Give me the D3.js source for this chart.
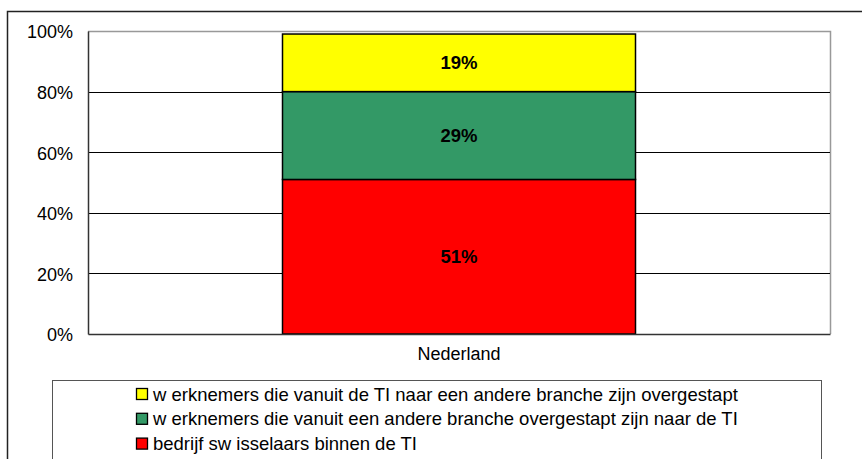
<!DOCTYPE html>
<html><head><meta charset="utf-8">
<script src="https://cdn.jsdelivr.net/npm/d3@7"></script>
<style>body{margin:0;background:#fff;}svg{display:block;font-family:"Liberation Sans",Arial,Helvetica,sans-serif;}</style>
</head><body>
<svg id="c" width="862" height="459"></svg>
<script>
const categories = ["Nederland"];
const seriesNames = [
  "bedrijf sw isselaars binnen de TI",
  "w erknemers die vanuit een andere branche overgestapt zijn naar de TI",
  "w erknemers die vanuit de TI naar een andere branche zijn overgestapt"
];
const seriesValues = [[51], [29], [19]];
const seriesColors = ["#ff0000", "#339966", "#ffff00"];
const yTicks = [0, 20, 40, 60, 80, 100];

const svg = d3.select("#c");
const L = 88, T = 31, R = 830, B = 334;
const FF = "Liberation Sans, Arial, sans-serif";

// outer border
svg.append("rect").attr("x", 7.5).attr("y", 11.5).attr("width", 900).attr("height", 500)
  .attr("fill", "none").attr("stroke", "#222").attr("stroke-width", 1.5);

const x = d3.scaleBand().domain(categories).range([L, R]).paddingInner(0)
  .paddingOuter((742 - 353) / 2 / 353);
const y = d3.scaleLinear().domain([0, 100]).range([B, T]);

// plot border top/right gray
svg.append("path").attr("d", `M${L},${T + 0.5}H${R + 0.5}V${B}`).attr("fill", "none").attr("stroke", "#999").attr("stroke-width", 1.5);

// gridlines
svg.append("g").selectAll("line").data(yTicks.filter(t => t > 0 && t < 100)).join("line")
  .attr("x1", L).attr("x2", R).attr("y1", d => Math.round(y(d)) + 0.5).attr("y2", d => Math.round(y(d)) + 0.5)
  .attr("stroke", "#000").attr("stroke-width", 1);

// stacked bars
let cum = [];
const stacks = seriesValues.map((vals) => {
  const s = vals.map((v, j) => { const y0 = cum[j] || 0; return { y0, y1: y0 + v, v, cat: categories[j] }; });
  vals.forEach((v, j) => cum[j] = (cum[j] || 0) + v);
  return s;
});
stacks.forEach((s, i) => {
  const g = svg.append("g");
  g.selectAll("rect").data(s).join("rect")
    .attr("x", d => x(d.cat)).attr("width", x.bandwidth())
    .attr("y", d => y(d.y1)).attr("height", d => y(d.y0) - y(d.y1))
    .attr("fill", seriesColors[i]).attr("stroke", "#000").attr("stroke-width", 1.5);
  g.selectAll("text").data(s).join("text")
    .attr("x", d => x(d.cat) + x.bandwidth() / 2).attr("y", d => (y(d.y0) + y(d.y1)) / 2 + 6.5)
    .attr("text-anchor", "middle").attr("font-weight", "bold").attr("font-size", 18.5).attr("fill", "#000")
    .attr("font-family", FF)
    .text(d => d.v + "%");
});

// axes
const ya = svg.append("g").attr("transform", `translate(${L},0)`)
  .call(d3.axisLeft(y).tickValues(yTicks).tickSize(0).tickPadding(15).tickFormat(d => d + "%"));
ya.attr("font-size", 18).attr("font-family", FF);
ya.select(".domain").attr("stroke", "#333").attr("stroke-width", 1.5);
ya.selectAll("text").attr("fill", "#000").attr("dy", "0.38em");

const xa = svg.append("g").attr("transform", `translate(0,${B})`)
  .call(d3.axisBottom(x).tickSize(0).tickPadding(13));
xa.attr("font-size", 18).attr("font-family", FF);
xa.select(".domain").attr("stroke", "#333").attr("stroke-width", 1.5);
xa.selectAll("text").attr("fill", "#000");

// legend
svg.append("rect").attr("x", 52.5).attr("y", 380.5).attr("width", 769).attr("height", 100)
  .attr("fill", "#fff").attr("stroke", "#555").attr("stroke-width", 1);
const legendOrder = [2, 1, 0];
const lg = svg.append("g").selectAll("g").data(legendOrder).join("g")
  .attr("transform", (d, i) => `translate(136,${394 + i * 24.8})`);
lg.append("rect").attr("x", 0.5).attr("y", -5.5).attr("width", 11).attr("height", 11)
  .attr("fill", d => seriesColors[d]).attr("stroke", "#000").attr("stroke-width", 1.3);
lg.append("text").attr("x", 17).attr("y", 6.5).attr("font-size", 18.5).attr("fill", "#000")
  .attr("font-family", FF)
  .text(d => seriesNames[d]);
</script>
</body></html>
